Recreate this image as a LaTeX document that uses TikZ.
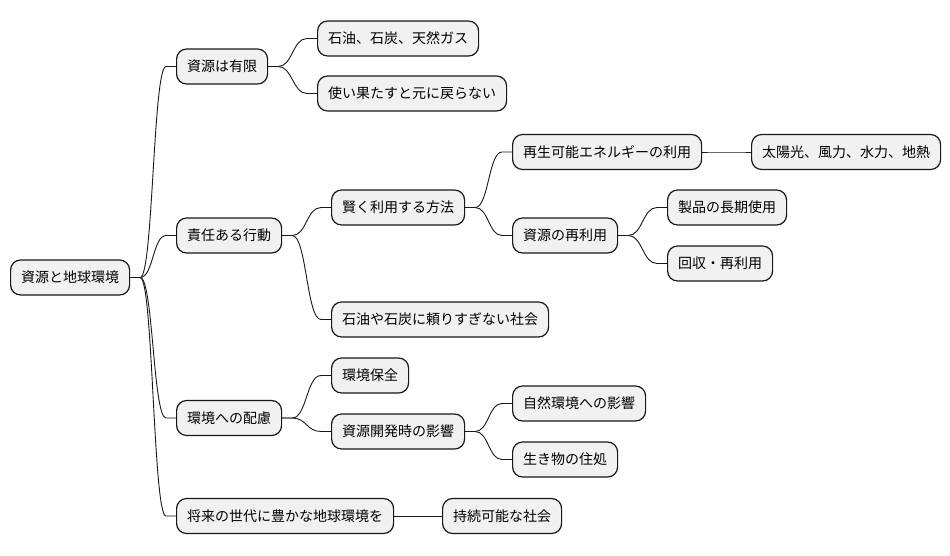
\documentclass[tikz,border=0pt]{standalone}
\usepackage{fontspec}
\setmainfont{Noto Sans CJK JP}
\usetikzlibrary{calc}
\definecolor{boxfill}{HTML}{F1F1F1}
\definecolor{boxline}{HTML}{181818}
\tikzset{
  mmnode/.style={draw=boxline, fill=boxfill, line width=1.2pt, rounded corners=10pt,
    font=\fontsize{14pt}{17pt}\selectfont, inner xsep=10.5pt, inner ysep=0pt,
    minimum height=35pt, anchor=west, text=black},
  mmlink/.style={draw=boxline, line width=0.9pt,
    to path={let \p1=(\tikztostart), \p2=(\tikztotarget) in
      -- (\x1+10pt,\y1) .. controls (\x1/2+\x2/2,\y1) and (\x1/2+\x2/2,\y2) .. (\x2-10pt,\y2) -- (\x2,\y2)}}
}
\begin{document}
\begin{tikzpicture}[x=1pt,y=-1pt]
\useasboundingbox (0,0) rectangle (950,555);
\node[mmnode] (root) at (10,277.5) {資源と地球環境};
\node[mmnode] (a) at (176,66.5) {資源は有限};
\node[mmnode] (a1) at (317,38.5) {石油、石炭、天然ガス};
\node[mmnode] (a2) at (317,93.5) {使い果たすと元に戻らない};
\node[mmnode] (b) at (176,235.5) {責任ある行動};
\node[mmnode] (b1) at (331,207.5) {賢く利用する方法};
\node[mmnode] (b11) at (512,152) {再生可能エネルギーの利用};
\node[mmnode] (b111) at (751,152) {太陽光、風力、水力、地熱};
\node[mmnode] (b12) at (512,235.5) {資源の再利用};
\node[mmnode] (b121) at (667,207.5) {製品の長期使用};
\node[mmnode] (b122) at (667,263.5) {回収・再利用};
\node[mmnode] (b2) at (331,319.5) {石油や石炭に頼りすぎない社会};
\node[mmnode] (c) at (176,418) {環境への配慮};
\node[mmnode] (c1) at (331,375.5) {環境保全};
\node[mmnode] (c2) at (331,431.5) {資源開発時の影響};
\node[mmnode] (c21) at (512,403.5) {自然環境への影響};
\node[mmnode] (c22) at (512,459.5) {生き物の住処};
\node[mmnode] (d) at (176,516) {将来の世代に豊かな地球環境を};
\node[mmnode] (d1) at (442,516) {持続可能な社会};
\foreach \p/\c in {root/a, root/b, root/c, root/d, a/a1, a/a2, b/b1, b/b2, b1/b11, b1/b12,
  b11/b111, b12/b121, b12/b122, c/c1, c/c2, c2/c21, c2/c22, d/d1}
  \draw[mmlink] (\p.east) to (\c.west);
\end{tikzpicture}
\end{document}
